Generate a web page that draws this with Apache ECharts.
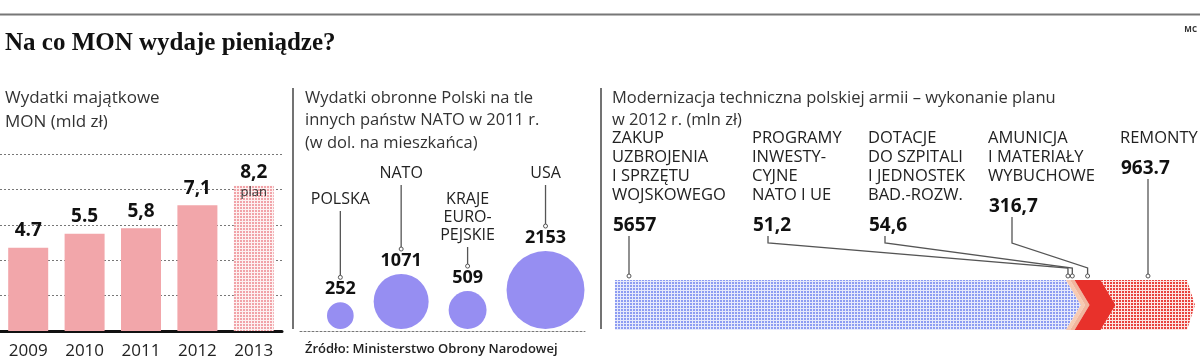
<!DOCTYPE html>
<html>
<head>
<meta charset="utf-8">
<script src="https://cdn.jsdelivr.net/npm/echarts@6/dist/echarts.min.js"></script>
<style>
html,body{margin:0;padding:0;background:#fff;}
#c{width:1200px;height:360px;}
</style>
</head>
<body>
<div id="c"></div>
<script>
// ---------- DATA ----------
const years = ['2009', '2010', '2011', '2012', '2013'];
const capex = [4.7, 5.5, 5.8, 7.1, 8.2];
const capexLabels = ['4.7', '5.5', '5,8', '7,1', '8,2'];
const capexPlanNote = 'plan';

const natoNames = ['POLSKA', 'NATO', 'KRAJE\nEURO-\nPEJSKIE', 'USA'];
const natoValues = [252, 1071, 509, 2153];

const modNames = ['ZAKUP\nUZBROJENIA\nI SPRZĘTU\nWOJSKOWEGO', 'PROGRAMY\nINWESTY-\nCYJNE\nNATO I UE', 'DOTACJE\nDO SZPITALI\nI JEDNOSTEK\nBAD.-ROZW.', 'AMUNICJA\nI MATERIAŁY\nWYBUCHOWE', 'REMONTY'];
const modValues = [5657, 51.2, 54.6, 316.7, 963.7];
const modLabels = ['5657', '51,2', '54,6', '316,7', '963.7'];

// ---------- LAYOUT / STYLE ----------
const SANS = "'Open Sans', 'Noto Sans', sans-serif";
const modLabelX = [612, 752, 868, 988, 1120];
const modLeadX = [629, 768, 885, 1012, 1148];

function makePattern(bg, fg, cell, dot) {
  const c = document.createElement('canvas');
  c.width = cell; c.height = cell;
  const g = c.getContext('2d');
  g.fillStyle = bg; g.fillRect(0, 0, cell, cell);
  g.fillStyle = fg; g.fillRect(0, 0, dot, dot);
  return { image: c, repeat: 'repeat' };
}
const pinkPattern = makePattern('#fdf1f1', '#f1a3a8', 3, 2);
const bluePattern = makePattern('#e6e9fc', '#8d9cf2', 3, 2);
const redPattern = makePattern('#fde6e4', '#e8433e', 3, 2);
const modFills = [bluePattern, '#f7cbb3', '#f1b69e', '#e8312b', redPattern];

const modTotal = modValues.reduce((a, b) => a + b, 0);
let acc = 0;
const modData = modValues.map((v, i) => { const s = acc; acc += v; return { value: [s, acc, 0, v] }; });

const chart = echarts.init(document.getElementById('c'), null, { renderer: 'canvas' });

const K = 0.84, GAP = 20, PAD = 27;
function bubbleRender(params, api) {
  const i = params.dataIndex;
  const base = api.coord([0, 0]);
  const rs = natoValues.map(v => K * Math.sqrt(v));
  let x = base[0] + PAD;
  for (let j = 0; j < i; j++) x += 2 * rs[j] + GAP;
  const r = rs[i];
  const cx = x + r;
  const cy = base[1] - 2 - r;
  const valY = cy - r - 13;
  const dotY = valY - 12;
  const nameTop = (i % 2 === 0) ? base[1] - 141 : base[1] - 167;
  const nLines = natoNames[i].split('\n').length;
  const nameLastCenter = nameTop + 9 + (nLines - 1) * 18;
  return {
    type: 'group',
    children: [
      { type: 'circle', shape: { cx: cx, cy: cy, r: r }, style: { fill: '#968ef2' } },
      { type: 'text', style: { text: String(natoValues[i]), x: cx, y: valY, textAlign: 'center', textVerticalAlign: 'middle', font: "bold 18px " + SANS, fill: '#111' } },
      { type: 'line', shape: { x1: cx, y1: nameLastCenter + 12, x2: cx, y2: dotY }, style: { stroke: '#555', lineWidth: 1.3 } },
      { type: 'circle', shape: { cx: cx, cy: dotY, r: 2 }, style: { fill: '#fff', stroke: '#555', lineWidth: 1 } },
      { type: 'text', style: { text: natoNames[i], x: cx, y: nameTop, textAlign: 'center', textVerticalAlign: 'top', lineHeight: 18, font: "16px " + SANS, fill: '#222' } }
    ]
  };
}

function modRender(params, api) {
  const i = params.dataIndex;
  const p0 = api.coord([api.value(0), 0]);
  const p1 = api.coord([api.value(1), 0]);
  const h = api.size([0, 1])[1];
  const mid = p0[1], top = mid - h / 2, bot = mid + h / 2;
  const x0 = p0[0], x1 = p1[0];
  const d = 15;
  const last = i === modValues.length - 1;
  const dt = last ? 8 : d;
  let pts;
  if (i === 0) {
    pts = [[x0, top], [x1 - dt, top], [x1, mid], [x1 - dt, bot], [x0, bot]];
  } else {
    pts = [[x0 - d, top], [x1 - dt, top], [x1, mid], [x1 - dt, bot], [x0 - d, bot], [x0, mid]];
  }
  const nLines = modNames[i].split('\n').length;
  const firstCenter = 138;
  const valY = firstCenter + (nLines - 1) * 19 + 31;
  const lx = modLeadX[i];
  const straight = (i === 0 || last);
  const tx = straight ? lx : (x0 + x1) / 2 - d;
  const dotY = top - 4;
  const lead = straight
    ? [[lx, valY + 10], [lx, dotY]]
    : [[lx, valY + 10], [lx, 243], [tx, 268], [tx, dotY]];
  return {
    type: 'group',
    children: [
      { type: 'polygon', shape: { points: pts }, style: { fill: modFills[i] } },
      { type: 'polyline', shape: { points: lead }, style: { stroke: '#555', lineWidth: 1.3, fill: null } },
      { type: 'circle', shape: { cx: tx, cy: dotY, r: 2 }, style: { fill: '#fff', stroke: '#555', lineWidth: 1 } },
      { type: 'text', style: { text: modNames[i], x: modLabelX[i], y: firstCenter - 9.5, textAlign: 'left', textVerticalAlign: 'top', lineHeight: 19, font: "16.5px " + SANS, fill: '#222' } },
      { type: 'text', style: { text: modLabels[i], x: modLabelX[i] + 1, y: valY, textAlign: 'left', textVerticalAlign: 'middle', font: "bold 19px " + SANS, fill: '#111' } }
    ]
  };
}

const option = {
  animation: false,
  backgroundColor: '#fff',
  grid: [
    { left: 0, top: 154, width: 282, height: 177 },
    { left: 300, top: 160, width: 285, height: 171 },
    { left: 615, top: 280, width: 580, height: 50 }
  ],
  xAxis: [
    { gridIndex: 0, type: 'category', data: years,
      axisLine: { lineStyle: { color: '#111', width: 3 } }, axisTick: { show: false },
      axisLabel: { fontSize: 17, fontWeight: 500, color: '#222', margin: 12, fontFamily: SANS } },
    { gridIndex: 1, type: 'value', min: 0, max: 1,
      axisLine: { show: true, lineStyle: { color: '#777', width: 1, type: [2, 2] } },
      axisTick: { show: false }, axisLabel: { show: false }, splitLine: { show: false } },
    { gridIndex: 2, type: 'value', min: 0, max: modTotal, show: false }
  ],
  yAxis: [
    { gridIndex: 0, type: 'value', min: 0, max: 10, interval: 2,
      axisLine: { show: false }, axisTick: { show: false }, axisLabel: { show: false },
      splitLine: { lineStyle: { color: '#777', width: 1, type: [2, 2] } } },
    { gridIndex: 1, type: 'value', min: 0, max: 1, show: false },
    { gridIndex: 2, type: 'category', data: ['plan'], show: false }
  ],
  series: [
    { type: 'bar', xAxisIndex: 0, yAxisIndex: 0, barWidth: 40,
      itemStyle: { color: '#f2a6aa' },
      data: capex.map((v, i) => i === capex.length - 1
        ? { value: v, itemStyle: { color: pinkPattern }, label: { offset: [0, 20] } }
        : v),
      label: { show: true, position: 'top', distance: 6,
        formatter: p => '{v|' + capexLabels[p.dataIndex] + '}' + (p.dataIndex === capex.length - 1 ? '\n{p|' + capexPlanNote + '}' : ''),
        rich: {
          v: { fontSize: 19, fontWeight: 'bold', color: '#111', lineHeight: 22, fontFamily: SANS },
          p: { fontSize: 13, color: '#333', lineHeight: 16, fontFamily: SANS }
        } } },
    { type: 'custom', xAxisIndex: 1, yAxisIndex: 1, clip: false,
      renderItem: bubbleRender,
      encode: { x: 0, y: 1 },
      data: natoValues.map((v, i) => ({ value: [0, 0, v], name: natoNames[i] })) },
    { type: 'custom', xAxisIndex: 2, yAxisIndex: 2, clip: false,
      renderItem: modRender,
      encode: { x: [0, 1], y: 2 },
      data: modData }
  ],
  graphic: [
    { type: 'line', shape: { x1: 0, y1: 14.5, x2: 1200, y2: 14.5 }, style: { stroke: '#777', lineWidth: 2 } },
    { type: 'text', left: 5, top: 31, style: { text: 'Na co MON wydaje pieniądze?', font: "bold 25px 'Liberation Serif', serif", fill: '#111' } },
    { type: 'text', right: 3, top: 26, style: { text: 'MC', font: "bold 8px " + SANS, fill: '#333' } },
    { type: 'text', left: 5, top: 86, style: { text: 'Wydatki majątkowe\nMON (mld zł)', font: "17px " + SANS, lineHeight: 24, fill: '#333' } },
    { type: 'text', left: 305, top: 87, style: { text: 'Wydatki obronne Polski na tle\ninnych państw NATO w 2011 r.\n(w dol. na mieszkańca)', font: "16.5px " + SANS, lineHeight: 22.5, fill: '#333' } },
    { type: 'text', left: 612, top: 87, style: { text: 'Modernizacja techniczna polskiej armii – wykonanie planu\nw 2012 r. (mln zł)', font: "16.5px " + SANS, lineHeight: 22, fill: '#333' } },
    { type: 'text', left: 305, top: 343, style: { text: 'Źródło: Ministerstwo Obrony Narodowej', font: "600 13px " + SANS, fill: '#222' } },
    { type: 'line', shape: { x1: 293, y1: 88, x2: 293, y2: 329 }, style: { stroke: '#444', lineWidth: 1.5 } },
    { type: 'line', shape: { x1: 601, y1: 88, x2: 601, y2: 329 }, style: { stroke: '#444', lineWidth: 1.5 } }
  ]
};
chart.setOption(option);
</script>
</body>
</html>
